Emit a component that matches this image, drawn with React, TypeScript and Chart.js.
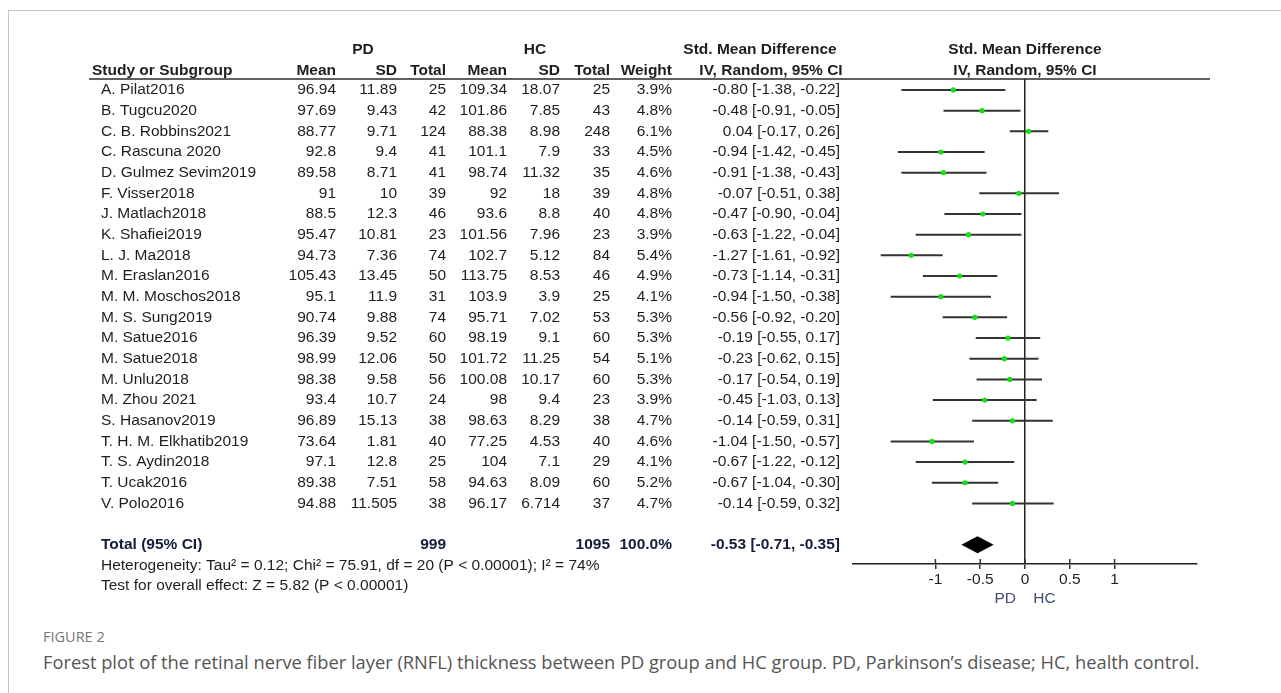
import React, { useEffect, useRef } from 'react';
import { Chart, registerables } from 'chart.js';
Chart.register(...registerables);

const studies = ['A. Pilat2016', 'B. Tugcu2020', 'C. B. Robbins2021', 'C. Rascuna 2020', 'D. Gulmez Sevim2019', 'F. Visser2018', 'J. Matlach2018', 'K. Shafiei2019', 'L. J. Ma2018', 'M. Eraslan2016', 'M. M. Moschos2018', 'M. S. Sung2019', 'M. Satue2016', 'M. Satue2018', 'M. Unlu2018', 'M. Zhou 2021', 'S. Hasanov2019', 'T. H. M. Elkhatib2019', 'T. S. Aydin2018', 'T. Ucak2016', 'V. Polo2016'];
const pdMean = [96.94, 97.69, 88.77, 92.8, 89.58, 91, 88.5, 95.47, 94.73, 105.43, 95.1, 90.74, 96.39, 98.99, 98.38, 93.4, 96.89, 73.64, 97.1, 89.38, 94.88];
const pdSD = [11.89, 9.43, 9.71, 9.4, 8.71, 10, 12.3, 10.81, 7.36, 13.45, 11.9, 9.88, 9.52, 12.06, 9.58, 10.7, 15.13, 1.81, 12.8, 7.51, 11.505];
const pdTotal = [25, 42, 124, 41, 41, 39, 46, 23, 74, 50, 31, 74, 60, 50, 56, 24, 38, 40, 25, 58, 38];
const hcMean = [109.34, 101.86, 88.38, 101.1, 98.74, 92, 93.6, 101.56, 102.7, 113.75, 103.9, 95.71, 98.19, 101.72, 100.08, 98, 98.63, 77.25, 104, 94.63, 96.17];
const hcSD = [18.07, 7.85, 8.98, 7.9, 11.32, 18, 8.8, 7.96, 5.12, 8.53, 3.9, 7.02, 9.1, 11.25, 10.17, 9.4, 8.29, 4.53, 7.1, 8.09, 6.714];
const hcTotal = [25, 43, 248, 33, 35, 39, 40, 23, 84, 46, 25, 53, 60, 54, 60, 23, 38, 40, 29, 60, 37];
const weights = [3.9, 4.8, 6.1, 4.5, 4.6, 4.8, 4.8, 3.9, 5.4, 4.9, 4.1, 5.3, 5.3, 5.1, 5.3, 3.9, 4.7, 4.6, 4.1, 5.2, 4.7];
const smd = [-0.80, -0.48, 0.04, -0.94, -0.91, -0.07, -0.47, -0.63, -1.27, -0.73, -0.94, -0.56, -0.19, -0.23, -0.17, -0.45, -0.14, -1.04, -0.67, -0.67, -0.14];
const ciLow = [-1.38, -0.91, -0.17, -1.42, -1.38, -0.51, -0.90, -1.22, -1.61, -1.14, -1.50, -0.92, -0.55, -0.62, -0.54, -1.03, -0.59, -1.50, -1.22, -1.04, -0.59];
const ciHigh = [-0.22, -0.05, 0.26, -0.45, -0.43, 0.38, -0.04, -0.04, -0.92, -0.31, -0.38, -0.20, 0.17, 0.15, 0.19, 0.13, 0.31, -0.57, -0.12, -0.30, 0.32];

const totalPD = 999;
const totalHC = 1095;
const totalWeight = 100.0;
const totalSMD = -0.53;
const totalLow = -0.71;
const totalHigh = -0.35;

const xTicks = [-1, -0.5, 0, 0.5, 1];
const xTickLabels = ['-1', '-0.5', '0', '0.5', '1'];

const heterogeneityText = 'Heterogeneity: Tau\u00B2 = 0.12; Chi\u00B2 = 75.91, df = 20 (P < 0.00001); I\u00B2 = 74%';
const overallText = 'Test for overall effect: Z = 5.82 (P < 0.00001)';

const FONT = '"Liberation Sans", Arial, sans-serif';
const FS = 15.5;
const AXIS_H = 44;
const CANVAS_W = 1281;
const CANVAS_H = 620;
const TOTAL_ROW = studies.length + 2;

const fmtCI = (e: number, l: number, h: number) => `${e.toFixed(2)} [${l.toFixed(2)}, ${h.toFixed(2)}]`;

const tablePlugin = {
  id: 'forestTable',
  afterDraw(chart: any) {
    const { ctx, chartArea } = chart;
    const ys = chart.scales.y;
    const xs = chart.scales.x;
    const rowY = (r: number) => ys.getPixelForValue(r);
    ctx.save();
    ctx.textBaseline = 'middle';
    const txt = (s: string, x: number, y: number, align: CanvasTextAlign, bold = false, color = '#1e1e1e') => {
      ctx.font = `${bold ? 'bold ' : ''}${FS}px ${FONT}`;
      ctx.fillStyle = color;
      ctx.textAlign = align;
      ctx.fillText(s, x, y);
    };
    const colName = 101, cPdM = 336, cPdS = 397, cPdT = 446, cHcM = 507, cHcS = 560, cHcT = 610, cW = 672, cCI = 840;
    const zeroX = xs.getPixelForValue(0);
    const h1 = rowY(-1) + 1, h2 = rowY(0) + 1;
    txt('PD', 363, h1, 'center', true);
    txt('HC', 535, h1, 'center', true);
    txt('Std. Mean Difference', 760, h1, 'center', true);
    txt('Std. Mean Difference', zeroX, h1, 'center', true);
    txt('Study or Subgroup', 92, h2, 'left', true);
    txt('Mean', cPdM, h2, 'right', true);
    txt('SD', cPdS, h2, 'right', true);
    txt('Total', cPdT, h2, 'right', true);
    txt('Mean', cHcM, h2, 'right', true);
    txt('SD', cHcS, h2, 'right', true);
    txt('Total', cHcT, h2, 'right', true);
    txt('Weight', cW, h2, 'right', true);
    txt('IV, Random, 95% CI', 771, h2, 'center', true);
    txt('IV, Random, 95% CI', zeroX, h2, 'center', true);
    ctx.strokeStyle = '#2a2a2a';
    ctx.lineWidth = 1.5;
    ctx.beginPath();
    ctx.moveTo(89, chartArea.top);
    ctx.lineTo(1210, chartArea.top);
    ctx.stroke();
    studies.forEach((name, i) => {
      const y = rowY(i + 1);
      txt(name, colName, y, 'left');
      txt(String(pdMean[i]), cPdM, y, 'right');
      txt(String(pdSD[i]), cPdS, y, 'right');
      txt(String(pdTotal[i]), cPdT, y, 'right');
      txt(String(hcMean[i]), cHcM, y, 'right');
      txt(String(hcSD[i]), cHcS, y, 'right');
      txt(String(hcTotal[i]), cHcT, y, 'right');
      txt(weights[i].toFixed(1) + '%', cW, y, 'right');
      txt(fmtCI(smd[i], ciLow[i], ciHigh[i]), cCI, y, 'right');
    });
    const ty = rowY(TOTAL_ROW);
    const navy = '#141c3a';
    txt('Total (95% CI)', colName, ty, 'left', true, navy);
    txt(String(totalPD), cPdT, ty, 'right', true, navy);
    txt(String(totalHC), cHcT, ty, 'right', true, navy);
    txt(totalWeight.toFixed(1) + '%', cW, ty, 'right', true, navy);
    txt(fmtCI(totalSMD, totalLow, totalHigh), cCI, ty, 'right', true, navy);
    txt(heterogeneityText, colName, rowY(TOTAL_ROW + 1), 'left');
    txt(overallText, colName, rowY(TOTAL_ROW + 2), 'left');
    const hh = 8.5;
    ctx.fillStyle = '#000';
    ctx.beginPath();
    ctx.moveTo(xs.getPixelForValue(totalLow), ty);
    ctx.lineTo(xs.getPixelForValue(totalSMD), ty - hh);
    ctx.lineTo(xs.getPixelForValue(totalHigh), ty);
    ctx.lineTo(xs.getPixelForValue(totalSMD), ty + hh);
    ctx.closePath();
    ctx.fill();
    ctx.strokeStyle = '#333';
    ctx.lineWidth = 1.5;
    xTicks.forEach((v) => {
      const x = xs.getPixelForValue(v);
      ctx.beginPath();
      ctx.moveTo(x, chartArea.bottom);
      ctx.lineTo(x, chartArea.bottom - 5);
      ctx.stroke();
    });
    ctx.restore();
  },
};

export default function App() {
  const ref = useRef<HTMLCanvasElement | null>(null);
  useEffect(() => {
    if (!ref.current) return;
    const ciSets = studies.map((name, i) => ({
      type: 'line',
      label: name,
      order: 2,
      data: [{ x: ciLow[i], y: i + 1 }, { x: ciHigh[i], y: i + 1 }],
      showLine: true,
      borderColor: '#333333',
      borderWidth: 2,
      pointRadius: 0,
      pointHoverRadius: 0,
      fill: false,
    }));
    const ptData = studies.map((_, i) => ({ x: smd[i], y: i + 1 }));
    let chart: any = null;
    try {
      chart = new Chart(ref.current, {
        type: 'scatter',
        data: {
          datasets: [
            ...ciSets,
            {
              type: 'scatter',
              label: 'Std. Mean Difference',
              order: 0,
              data: ptData,
              showLine: false,
              pointStyle: 'circle',
              pointRadius: 2.6,
              backgroundColor: '#14e014',
              borderColor: '#14e014',
              borderWidth: 0,
            },
          ] as any,
        },
        options: {
          animation: false,
          responsive: false,
          maintainAspectRatio: false,
          layout: { padding: { left: 853, right: CANVAS_W - 1197, top: 79, bottom: CANVAS_H - 564 - AXIS_H } },
          plugins: { legend: { display: false }, tooltip: { enabled: false } },
          scales: {
            x: {
              type: 'linear',
              min: -1.92,
              max: 1.92,
              position: 'bottom',
              afterBuildTicks: (s: any) => {
                s.ticks = xTicks.map((v) => ({ value: v }));
              },
              afterFit: (s: any) => {
                s.height = AXIS_H;
              },
              border: { display: true, color: '#222', width: 1.5 },
              grid: {
                drawOnChartArea: true,
                color: (c: any) => (c.tick && c.tick.value === 0 ? '#222' : 'rgba(0,0,0,0)'),
                lineWidth: 1.5,
                tickLength: 5,
                tickColor: '#333',
                tickWidth: 1.5,
              },
              ticks: {
                autoSkip: false,
                maxRotation: 0,
                color: '#1e1e1e',
                padding: 1,
                font: { family: FONT, size: FS },
                callback: (v: any, i: number) => xTickLabels[i],
              },
              title: {
                display: true,
                text: 'PD    HC',
                color: '#414d7a',
                font: { family: FONT, size: FS },
                padding: { top: 0, bottom: 0 },
              },
            },
            y: { type: 'linear', display: false, reverse: true, min: 0.47, max: 23.93 },
          },
        } as any,
        plugins: [tablePlugin],
      });
    } catch (e) {
      console.error(e);
    }
    return () => {
      if (chart) chart.destroy();
    };
  }, []);

  return (
    <div style={{ position: 'absolute', left: 0, top: 0, width: 1281, height: 693, overflow: 'hidden', background: '#fff' }}>
      <div style={{ position: 'absolute', left: 8, top: 10, width: 1400, height: 800, borderTop: '1px solid #c4c4c4', borderLeft: '1px solid #c4c4c4' }} />
      <canvas ref={ref} width={CANVAS_W} height={CANVAS_H} style={{ position: 'absolute', left: 0, top: 0, width: CANVAS_W, height: CANVAS_H }} />
      <div style={{ position: 'absolute', left: 43, top: 628, font: '14.5px "Open Sans", sans-serif', color: '#777', whiteSpace: 'nowrap', lineHeight: '18px' }}>FIGURE 2</div>
      <div style={{ position: 'absolute', left: 43, top: 651, font: '18.3px "Open Sans", sans-serif', color: '#555', whiteSpace: 'nowrap', lineHeight: '22px' }}>
        Forest plot of the retinal nerve fiber layer (RNFL) thickness between PD group and HC group. PD, Parkinson’s disease; HC, health control.
      </div>
    </div>
  );
}
